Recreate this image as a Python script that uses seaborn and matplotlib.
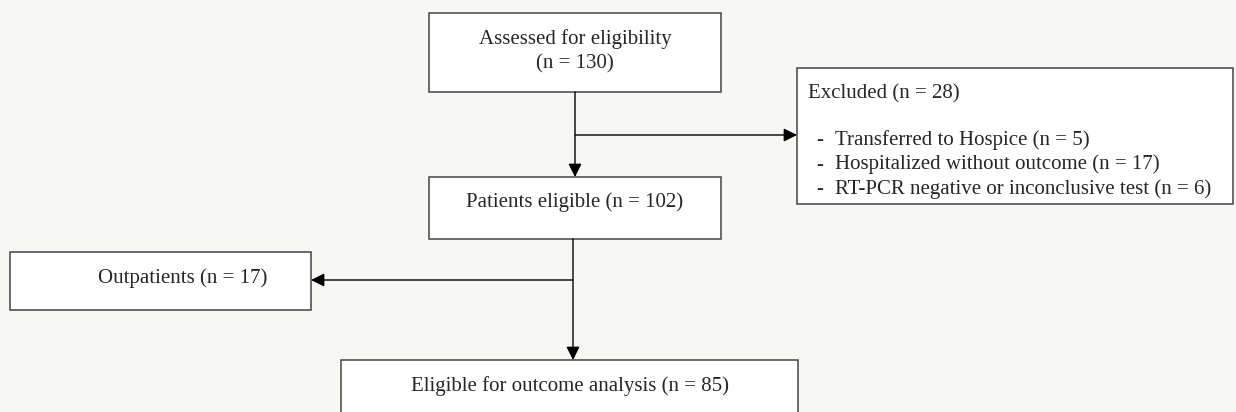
import matplotlib.pyplot as plt
import seaborn as sns
from matplotlib.patches import Rectangle

# Dados do fluxograma
n_avaliados = 130
n_excluidos = 28
motivos_exclusao = ["Transferred to Hospice", "Hospitalized without outcome",
                    "RT-PCR negative or inconclusive test"]
n_motivos = [5, 17, 6]
n_elegiveis = 102
n_ambulatoriais = 17
n_analise = 85

sns.set_theme(style="white")
plt.rcParams['font.family'] = ['Liberation Serif', 'DejaVu Serif']

fig = plt.figure(figsize=(12.36, 4.12), dpi=100)
fig.patch.set_facecolor('#f7f7f3')
ax = fig.add_axes([0, 0, 1, 1])
ax.set_xlim(0, 1236)
ax.set_ylim(412, 0)
ax.axis('off')

fs = 15


def caixa(x0, y0, x1, y1):
    ax.add_patch(Rectangle((x0, y0), x1 - x0, y1 - y0, facecolor='white',
                           edgecolor='#444444', linewidth=1.1, zorder=2))


def seta(x0, y0, x1, y1):
    ax.annotate('', xy=(x1, y1), xytext=(x0, y0),
                arrowprops=dict(arrowstyle='-|>', color='black', lw=1.0,
                                mutation_scale=20, shrinkA=0, shrinkB=0),
                zorder=3)


def texto(x, y, s, ha='center', **kw):
    ax.text(x, y, s, ha=ha, va='center_baseline', fontsize=fs, **kw)


# caixas
caixa(429, 13, 721, 92)
caixa(797, 68, 1233, 204)
caixa(429, 177, 721, 239)
caixa(10, 252, 311, 310)
caixa(341, 360, 798, 420)

texto(575, 37, 'Assessed for eligibility')
texto(575, 61, f'(n = {n_avaliados})')
texto(808, 91, f'Excluded (n = {n_excluidos})', ha='left')
for i, (m, n) in enumerate(zip(motivos_exclusao, n_motivos)):
    y = 137.5 + i * 24.5
    texto(816, y, '-', ha='left', fontweight='bold')
    texto(835, y, f'{m} (n = {n})', ha='left')
texto(575, 200, f'Patients eligible (n = {n_elegiveis})')
texto(183, 276, f'Outpatients (n = {n_ambulatoriais})')
texto(570, 384, f'Eligible for outcome analysis (n = {n_analise})')

# conexoes
seta(575, 92, 575, 177)
seta(575, 135, 797, 135)
seta(573, 239, 573, 360)
seta(573, 280, 311, 280)

fig.savefig('out.png', dpi=100, facecolor=fig.get_facecolor())
